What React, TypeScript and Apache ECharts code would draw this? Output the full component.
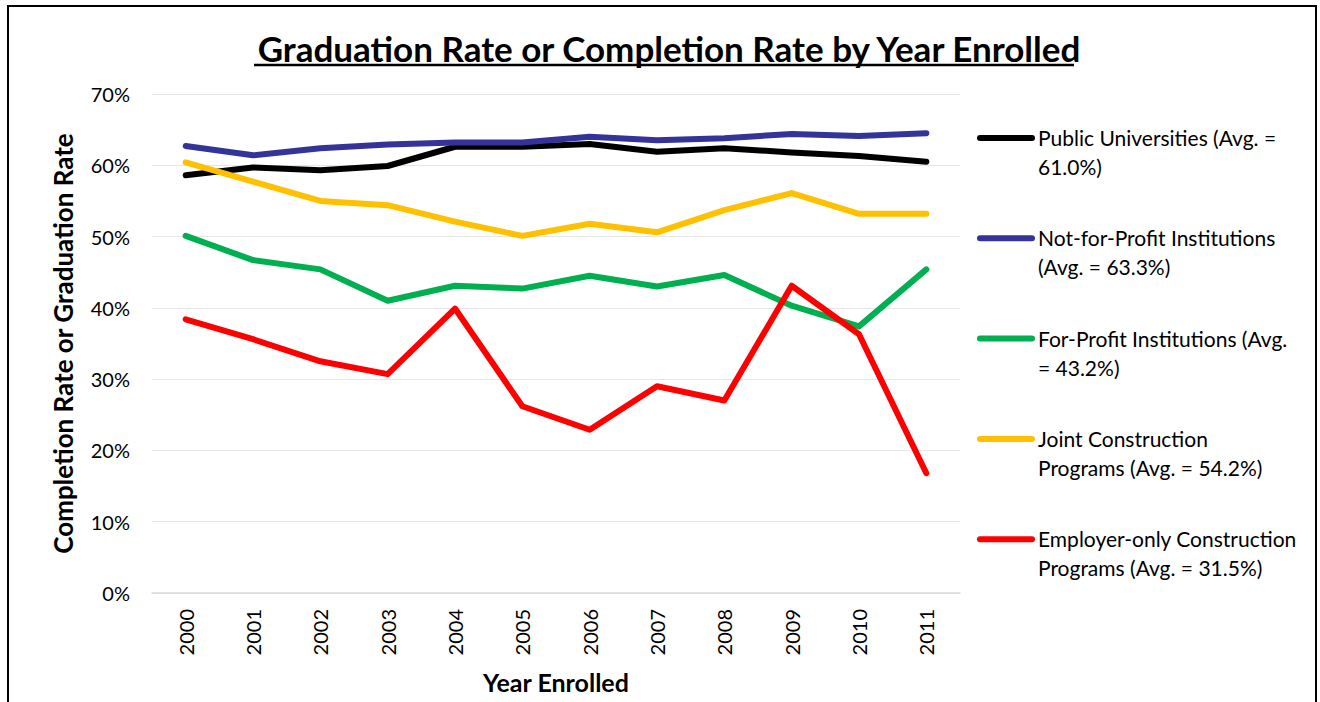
import React, { useEffect, useRef } from "react";
import * as echarts from "echarts";

const years = ["2000", "2001", "2002", "2003", "2004", "2005", "2006", "2007", "2008", "2009", "2010", "2011"];
const publicUniv = [58.6, 59.7, 59.3, 59.9, 62.6, 62.6, 63.0, 61.9, 62.4, 61.8, 61.3, 60.5];
const notForProfit = [62.7, 61.4, 62.4, 62.9, 63.2, 63.2, 64.0, 63.5, 63.8, 64.4, 64.1, 64.5];
const forProfit = [50.1, 46.7, 45.4, 41.0, 43.1, 42.7, 44.5, 43.0, 44.6, 40.3, 37.4, 45.4];
const jointPrograms = [60.4, 57.7, 55.0, 54.4, 52.1, 50.1, 51.8, 50.6, 53.7, 56.1, 53.2, 53.2];
const employerOnly = [38.4, 35.6, 32.5, 30.7, 39.9, 26.2, 22.9, 29.0, 27.0, 43.1, 36.3, 16.8];

const seriesNames = [
  "Public Universities (Avg. =\n61.0%)",
  "Not-for-Profit Institutions\n(Avg. = 63.3%)",
  "For-Profit Institutions (Avg.\n= 43.2%)",
  "Joint Construction\nPrograms (Avg. = 54.2%)",
  "Employer-only Construction\nPrograms (Avg. = 31.5%)",
];
const seriesColors = ["#000000", "#333399", "#00b050", "#ffc000", "#ff0000"];
const seriesData = [publicUniv, notForProfit, forProfit, jointPrograms, employerOnly];

const FONT = "Lato, 'Open Sans', sans-serif";

export default function App() {
  const ref = useRef<HTMLDivElement>(null);
  useEffect(() => {
    document.body.style.margin = "0";
    const chart = echarts.init(ref.current!, null, { renderer: "svg" });
    const legendGraphics: any[] = [];
    seriesNames.forEach((name, i) => {
      const y = 138 + i * 100.3;
      legendGraphics.push({
        type: "line",
        shape: { x1: 980, y1: y, x2: 1032, y2: y },
        style: { stroke: seriesColors[i], lineWidth: 6, lineCap: "round" },
      });
      legendGraphics.push({
        type: "text",
        x: 1038,
        y: y - 15,
        style: {
          text: name,
          font: `21px ${FONT}`,
          fill: "#000",
          lineHeight: 29,
          textVerticalAlign: "top",
        },
      });
    });
    chart.setOption({
      animation: false,
      backgroundColor: "#ffffff",
      textStyle: { fontFamily: FONT },
      title: {
        text: "Graduation Rate or Completion Rate by Year Enrolled",
        left: 664,
        top: 25,
        textAlign: "center",
        textStyle: { fontFamily: FONT, fontWeight: "bold", fontSize: 35, color: "#000" },
      },
      grid: { left: 152, right: 360, top: 94, bottom: 109, containLabel: false },
      xAxis: {
        type: "category",
        data: years,
        boundaryGap: true,
        name: "Year Enrolled",
        nameLocation: "middle",
        nameGap: 76,
        nameTextStyle: { fontFamily: FONT, fontWeight: "bold", fontSize: 25, color: "#000" },
        axisLine: { lineStyle: { color: "#d9d9d9", width: 1.5 } },
        axisTick: { show: false },
        axisLabel: { rotate: 90, fontSize: 20, color: "#000", margin: 16, fontFamily: FONT },
      },
      yAxis: {
        type: "value",
        min: 0,
        max: 70,
        interval: 10,
        name: "Completion Rate or Graduation Rate",
        nameLocation: "middle",
        nameGap: 76,
        nameRotate: 90,
        nameTextStyle: { fontFamily: FONT, fontWeight: "bold", fontSize: 26, color: "#000" },
        axisLine: { show: false },
        axisTick: { show: false },
        splitLine: { lineStyle: { color: "#e6e6e6", width: 1 } },
        axisLabel: { formatter: "{value}%", fontSize: 20, color: "#000", margin: 22, fontFamily: FONT },
      },
      series: seriesNames.map((name, i) => ({
        type: "line",
        name,
        data: seriesData[i],
        symbol: "none",
        smooth: false,
        lineStyle: { color: seriesColors[i], width: 6, cap: "round", join: "round" },
        itemStyle: { color: seriesColors[i] },
        z: 2 + i,
      })),
      graphic: [
        {
          type: "rect",
          shape: { x: 8, y: 6, width: 1308, height: 720 },
          style: { fill: "none", stroke: "#000", lineWidth: 2 },
          silent: true,
        },
        {
          type: "line",
          shape: { x1: 254, y1: 65, x2: 1074, y2: 65 },
          style: { stroke: "#000", lineWidth: 2.5 },
        },
        ...legendGraphics,
      ],
    });
    return () => chart.dispose();
  }, []);
  return <div ref={ref} style={{ width: 1320, height: 702 }} />;
}
